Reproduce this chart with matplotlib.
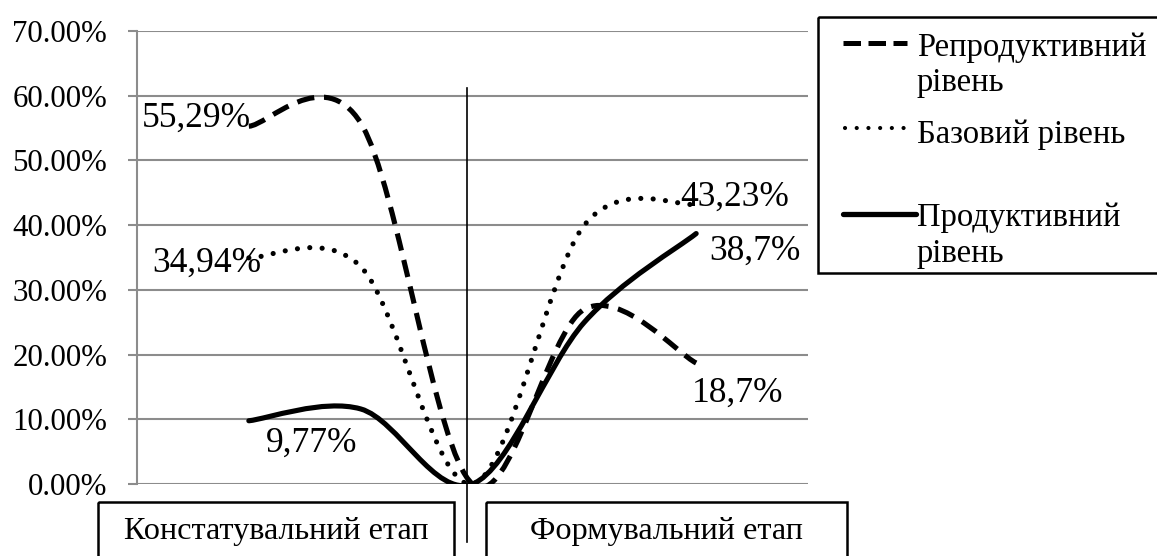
import matplotlib
matplotlib.use("Agg")
import matplotlib.pyplot as plt
from matplotlib.path import Path
from matplotlib.patches import PathPatch, Rectangle
from matplotlib.ticker import FuncFormatter

plt.rcParams['font.family'] = ['Liberation Serif', 'DejaVu Serif']

# Дані (у відсотках), точки кривої зліва направо
points = [0, 1, 2, 3, 4]
reproduktyvnyi = [55.29, 55.8, 0.0, 27.0, 18.7]
bazovyi = [34.94, 33.6, 0.0, 40.0, 43.23]
produktyvnyi = [9.77, 11.6, 0.0, 25.0, 38.7]

series_names = [["Репродуктивний", "рівень"], ["Базовий рівень"], ["Продуктивний", "рівень"]]
stage_names = ["Констатувальний етап", "Формувальний етап"]
y_ticks = [0, 10, 20, 30, 40, 50, 60, 70]

# підписи: (індекс точки, текст)
labels_repro = [(0, "55,29%"), (4, "18,7%")]
labels_baz = [(0, "34,94%"), (4, "43,23%")]
labels_prod = [(0, "9,77%"), (4, "38,7%")]


def smooth_path(xs, ys):
    # згладжування як у Excel (Catmull-Rom -> Bezier)
    n = len(xs)
    verts = [(xs[0], ys[0])]
    codes = [Path.MOVETO]
    for i in range(n - 1):
        i0 = max(i - 1, 0)
        i3 = min(i + 2, n - 1)
        c1 = (xs[i] + (xs[i + 1] - xs[i0]) / 6, ys[i] + (ys[i + 1] - ys[i0]) / 6)
        c2 = (xs[i + 1] - (xs[i3] - xs[i]) / 6, ys[i + 1] - (ys[i3] - ys[i]) / 6)
        verts += [c1, c2, (xs[i + 1], ys[i + 1])]
        codes += [Path.CURVE4] * 3
    return Path(verts, codes)


W, H = 1157, 556
fig = plt.figure(figsize=(W / 100, H / 100), dpi=100)
ax = fig.add_axes([137 / W, (H - 484) / H, 671 / W, 453 / H])

dash_style = (0, (3.4, 1.9))
dot_style = (0, (0.01, 2.4))

styles = [
    (reproduktyvnyi, dash_style, 'butt', labels_repro),
    (bazovyi, dot_style, 'round', labels_baz),
    (produktyvnyi, '-', 'round', labels_prod),
]

for vals, ls, cap, labs in styles:
    patch = PathPatch(smooth_path(points, vals), fill=False, edgecolor='black',
                      lw=3.7, linestyle=ls, capstyle=cap, zorder=3)
    ax.add_patch(patch)

offsets = {
    "55,29%": (-52, 8), "18,7%": (41, -30),
    "34,94%": (-42, -5), "43,23%": (39, 7),
    "9,77%": (63, -22), "38,7%": (59, -18),
}
for vals, ls, cap, labs in styles:
    for idx, txt in labs:
        ax.annotate(txt, (points[idx], vals[idx]), xytext=offsets[txt],
                    textcoords='offset pixels', ha='center', va='center',
                    fontsize=25.5, zorder=4)

ax.set_xlim(-1, 5)
ax.set_ylim(0, 70)
ax.set_yticks(y_ticks)
ax.yaxis.set_major_formatter(FuncFormatter(lambda v, p: f"{v:.2f}%"))
ax.set_xticks([])
ax.grid(axis='y', color='#8c8c8c', lw=1.5, zorder=1)
for s in ['top', 'right', 'bottom']:
    ax.spines[s].set_visible(False)
ax.spines['left'].set_color('#8c8c8c')
ax.spines['left'].set_linewidth(1.5)
ax.tick_params(axis='y', length=6.5, width=1.5, color='#8c8c8c', pad=15,
               labelsize=22.2)

# вертикальна межа між етапами
ax.axvline(1.95, ymin=-58 / 453, ymax=396 / 453, color='black', lw=1.2,
           clip_on=False, zorder=2)

# накладка у піксельних координатах для легенди та підписів етапів
ov = fig.add_axes([0, 0, 1, 1], facecolor='none')
ov.set_xlim(0, W)
ov.set_ylim(H, 0)
ov.axis('off')

# підписи етапів у рамках
ov.add_patch(Rectangle((98, 502), 356, 80, fill=False, ec='black', lw=1.8, clip_on=False))
ov.add_patch(Rectangle((486, 502), 361, 80, fill=False, ec='black', lw=1.8, clip_on=False))
ov.text(276, 531, stage_names[0], ha='center', va='center', fontsize=23.2)
ov.text(666, 531, stage_names[1], ha='center', va='center', fontsize=23.2)

# легенда
ov.add_patch(Rectangle((818, 17), 400, 256, fill=False, ec='black', lw=1.8, clip_on=False))
ov.plot([843, 907], [42.5, 42.5], color='black', lw=3.6, linestyle=(0, (3.5, 1.5)),
        dash_capstyle='butt')
ov.plot([845, 905], [128, 128], color='black', lw=3.0, linestyle=(0, (0.01, 2.8)),
        dash_capstyle='round')
ov.plot([843, 916], [214, 214], color='black', lw=3.8, solid_capstyle='round')
baselines = [[56, 91], [143], [226, 262]]
for lines, ys in zip(series_names, baselines):
    for line, yb in zip(lines, ys):
        ov.text(917, yb, line, ha='left', va='baseline', fontsize=23.5)

fig.savefig("out.png", dpi=100)
